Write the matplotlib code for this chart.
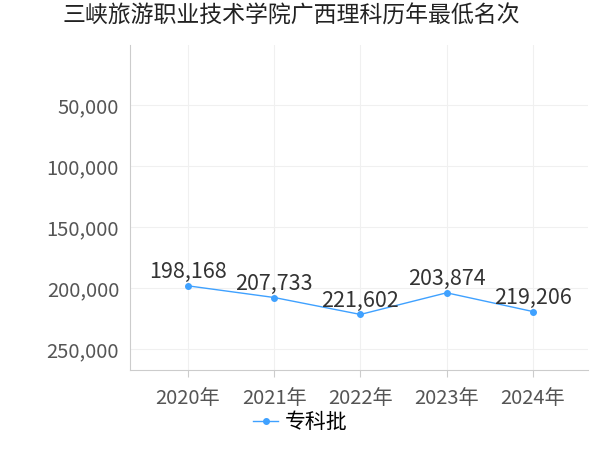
import matplotlib
matplotlib.use("Agg")
import matplotlib.pyplot as plt
from matplotlib.ticker import FuncFormatter

plt.rcParams['font.family'] = ['Noto Sans CJK SC', 'DejaVu Sans']

years = ['2020年', '2021年', '2022年', '2023年', '2024年']
ranks = [198168, 207733, 221602, 203874, 219206]
series_name = '专科批'

fig = plt.figure(figsize=(6, 4.5), dpi=100)
ax = fig.add_axes([0.217, 0.178, 0.763, 0.722])

x = list(range(len(years)))
ax.plot(x, ranks, color='#3fa1ff', linewidth=1, marker='o', markersize=4, label=series_name)
for xi, v in zip(x, ranks):
    ax.text(xi, v - 2000, f'{v:,}', ha='center', va='bottom', fontsize=15.5, color='#333333')

ax.set_ylim(267000, 1000)
ax.set_yticks([50000, 100000, 150000, 200000, 250000])
ax.yaxis.set_major_formatter(FuncFormatter(lambda v, p: f'{int(v):,}'))
ax.set_xlim(-0.67, 4.64)
ax.set_xticks(x)
ax.set_xticklabels(years)
ax.tick_params(axis='both', labelsize=14.5, colors='#555555', length=0, pad=8)
ax.tick_params(axis='x', length=5, color='#cccccc')
ax.grid(True, color='#f0f0f0', linewidth=0.8)
for s in ['top', 'right']:
    ax.spines[s].set_visible(False)
for s in ['left', 'bottom']:
    ax.spines[s].set_color('#cccccc')

fig.text(0.485, 0.95, '三峡旅游职业技术学院广西理科历年最低名次', ha='center', fontsize=16.5, color='#222222')
fig.legend(loc='lower center', bbox_to_anchor=(0.5, -0.005), frameon=False, fontsize=15, handlelength=1.2, handletextpad=0.3)

fig.savefig('out.png', dpi=100)
